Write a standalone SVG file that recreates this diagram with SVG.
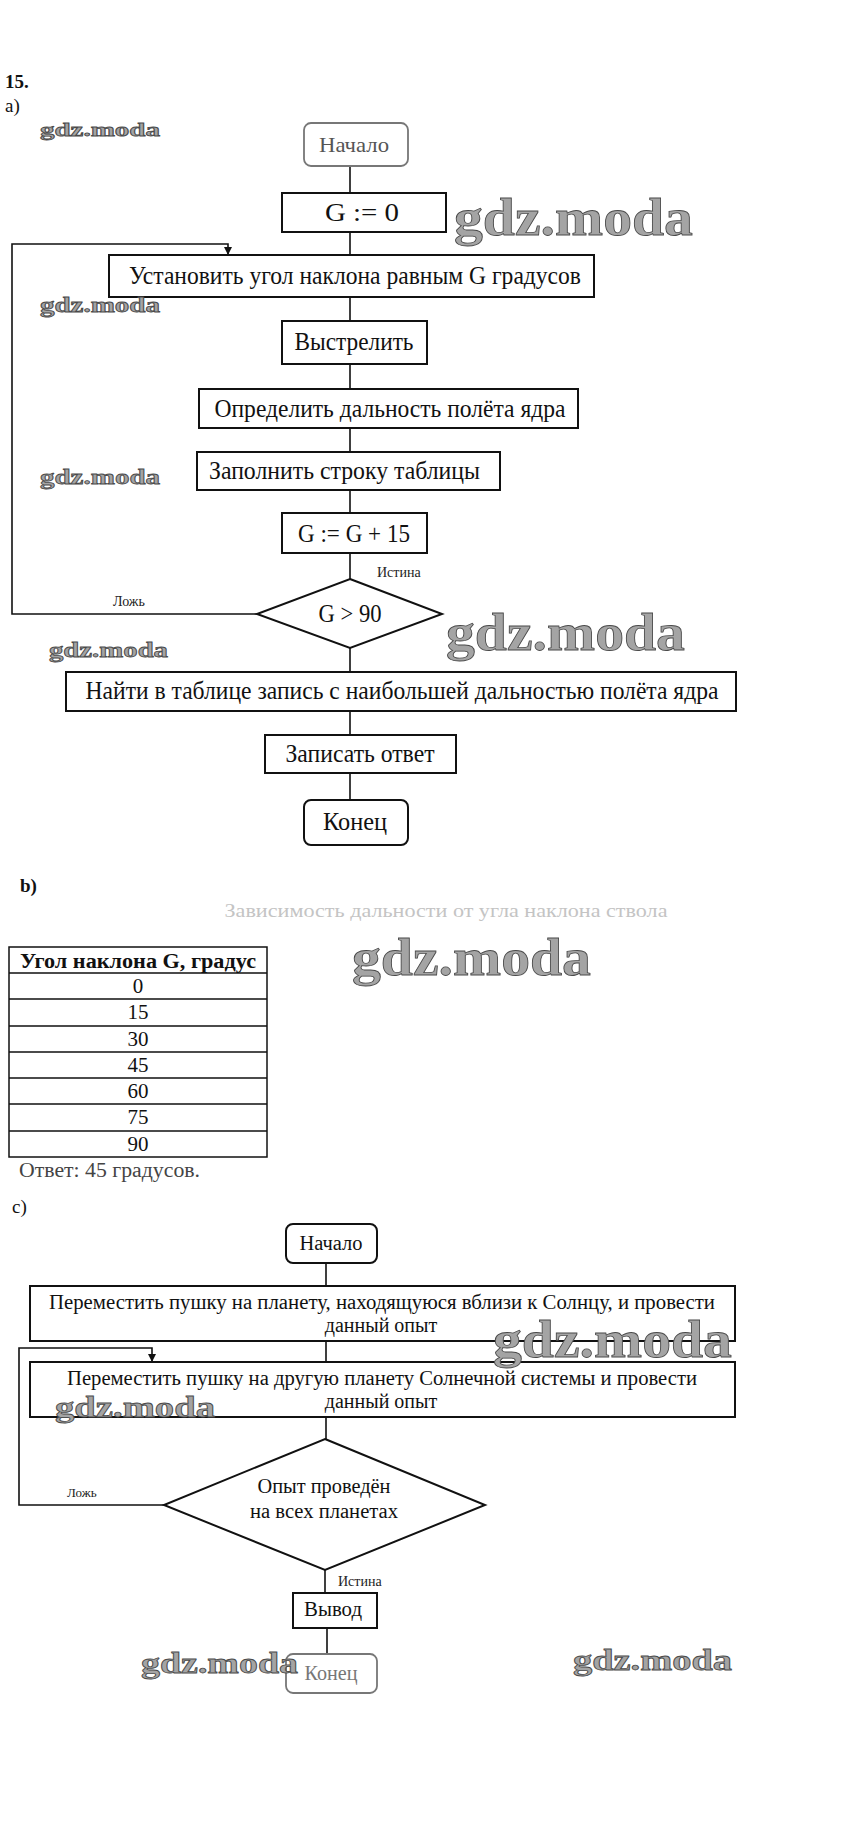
<svg xmlns="http://www.w3.org/2000/svg" width="866" height="1833" viewBox="0 0 866 1833">
<defs>
<style>
.t{font-family:"Liberation Serif","Times New Roman",serif;fill:#111;font-size:24.5px}
.c{text-anchor:middle}
.box{fill:#fff;stroke:#111;stroke-width:2}
.ln{fill:none;stroke:#111;stroke-width:1.6}
.lbl{font-family:"Liberation Serif","Times New Roman",serif;fill:#222;font-size:14px}
.wm{font-family:"Liberation Serif","Times New Roman",serif;font-weight:bold;fill:#a4a4a4;stroke:#4a4a4a;stroke-width:0.8}
.faded{fill:#fff;stroke:#777;stroke-width:1.8}
</style>
<marker id="arr" viewBox="0 0 10 10" refX="10" refY="5" markerWidth="8" markerHeight="8" markerUnits="userSpaceOnUse" orient="auto">
<path d="M0,0 L10,5 L0,10 z" fill="#111"/>
</marker>
</defs>
<rect width="866" height="1833" fill="#fff"/>

<text class="t" x="5" y="88" style="font-weight:bold;font-size:19px">15.</text>
<text class="t" x="5" y="112" style="font-size:19px">a)</text>

<!-- connectors -->
<g id="connectors">
<path class="ln" d="M350,166 V193 M350,232 V255 M350,297 V321 M350,364 V389 M350,428 V452 M350,490 V513 M350,553 V579 M350,648 V672 M350,711 V735 M350,773 V800"/>
<path class="ln" d="M257,614 H12 V244 H228 V255" marker-end="url(#arr)"/>
<path class="ln" d="M326,1263 V1286 M326,1341 V1362 M326,1417 V1439 M325,1570 V1593 M327,1628 V1654"/>
<path class="ln" d="M164,1505 H19 V1348 H152 V1362" marker-end="url(#arr)"/>
<text class="lbl" x="377" y="577">Истина</text>
<text class="lbl" x="113" y="606">Ложь</text>
<text class="lbl" x="67" y="1497" style="font-size:13px">Ложь</text>
<text class="lbl" x="338" y="1586">Истина</text>
</g>

<g id="a-start"><rect class="faded" x="304" y="123" width="104" height="43" rx="7"/><text class="t c" x="354" y="152" style="fill:#555;font-size:21px" textLength="70" lengthAdjust="spacingAndGlyphs">Начало</text></g>
<g id="a-g0"><rect class="box" x="282" y="193" width="164" height="39"/><text class="t c" x="362" y="221" style="font-size:26px" textLength="74" lengthAdjust="spacingAndGlyphs">G := 0</text></g>
<g id="a-set"><rect class="box" x="109" y="255" width="485" height="42"/><text class="t c" x="355" y="284" textLength="452" lengthAdjust="spacingAndGlyphs">Установить угол наклона равным G градусов</text></g>
<g id="a-fire"><rect class="box" x="282" y="321" width="145" height="43"/><text class="t c" x="354" y="350" textLength="119" lengthAdjust="spacingAndGlyphs">Выстрелить</text></g>
<g id="a-det"><rect class="box" x="199" y="389" width="379" height="39"/><text class="t c" x="390" y="417" textLength="351" lengthAdjust="spacingAndGlyphs">Определить дальность полёта ядра</text></g>
<g id="a-fill"><rect class="box" x="197" y="452" width="303" height="38"/><text class="t" x="209" y="479" textLength="271" lengthAdjust="spacingAndGlyphs">Заполнить строку таблицы</text></g>
<g id="a-inc"><rect class="box" x="282" y="513" width="145" height="40"/><text class="t c" x="354" y="542" textLength="112" lengthAdjust="spacingAndGlyphs">G := G + 15</text></g>
<g id="a-dec"><polygon class="box" points="350,579 442,614 350,648 257,614"/><text class="t c" x="350" y="622" textLength="63" lengthAdjust="spacingAndGlyphs">G &gt; 90</text></g>
<g id="a-find"><rect class="box" x="66" y="672" width="670" height="39"/><text class="t c" x="402" y="699" textLength="633" lengthAdjust="spacingAndGlyphs">Найти в таблице запись с наибольшей дальностью полёта ядра</text></g>
<g id="a-write"><rect class="box" x="265" y="735" width="191" height="38"/><text class="t c" x="360" y="762" textLength="149" lengthAdjust="spacingAndGlyphs">Записать ответ</text></g>
<g id="a-end"><rect class="box" x="304" y="800" width="104" height="45" rx="7"/><text class="t c" x="355" y="830" textLength="64" lengthAdjust="spacingAndGlyphs">Конец</text></g>

<!-- b -->
<text class="t" x="20" y="892" style="font-weight:bold;font-size:19px">b)</text>
<text class="t c" x="446" y="917" style="fill:#c4c4c4;font-size:19px" textLength="443" lengthAdjust="spacingAndGlyphs">Зависимость дальности от угла наклона ствола</text>
<g id="table">
<rect x="9" y="947" width="258" height="210" fill="#fff" stroke="#111" stroke-width="1.5"/>
<path class="ln" d="M9,973 H267 M9,999 H267 M9,1026 H267 M9,1052 H267 M9,1078 H267 M9,1104 H267 M9,1131 H267"/>
<text class="t c" x="138" y="968" style="font-weight:bold;font-size:20px" textLength="236" lengthAdjust="spacingAndGlyphs">Угол наклона G, градус</text>
<text class="t c" x="138" y="993" style="font-size:21px">0</text>
<text class="t c" x="138" y="1019" style="font-size:21px">15</text>
<text class="t c" x="138" y="1046" style="font-size:21px">30</text>
<text class="t c" x="138" y="1072" style="font-size:21px">45</text>
<text class="t c" x="138" y="1098" style="font-size:21px">60</text>
<text class="t c" x="138" y="1124" style="font-size:21px">75</text>
<text class="t c" x="138" y="1151" style="font-size:21px">90</text>
</g>
<text class="t" x="19" y="1177" style="fill:#444;font-size:20px" textLength="181" lengthAdjust="spacingAndGlyphs">Ответ: 45 градусов.</text>

<!-- c -->
<text class="t" x="12" y="1213" style="font-size:19px">c)</text>
<g id="c-start"><rect class="box" x="286" y="1224" width="91" height="39" rx="7"/><text class="t c" x="331" y="1250" style="font-size:20px" textLength="63" lengthAdjust="spacingAndGlyphs">Начало</text></g>
<g id="c-move1"><rect class="box" x="30" y="1286" width="705" height="55"/>
<text class="t c" x="382" y="1309" style="font-size:20px" textLength="666" lengthAdjust="spacingAndGlyphs">Переместить пушку на планету, находящуюся вблизи к Солнцу, и провести</text>
<text class="t c" x="381" y="1332" style="font-size:20px">данный опыт</text></g>
<g id="c-move2"><rect class="box" x="30" y="1362" width="705" height="55"/>
<text class="t c" x="382" y="1385" style="font-size:20px" textLength="630" lengthAdjust="spacingAndGlyphs">Переместить пушку на другую планету Солнечной системы и провести</text>
<text class="t c" x="381" y="1408" style="font-size:20px">данный опыт</text></g>
<g id="c-dec"><polygon class="box" points="325,1439 485,1505 325,1570 164,1505"/>
<text class="t c" x="324" y="1493" style="font-size:20px" textLength="133" lengthAdjust="spacingAndGlyphs">Опыт проведён</text>
<text class="t c" x="324" y="1518" style="font-size:20px" textLength="148" lengthAdjust="spacingAndGlyphs">на всех планетах</text></g>
<g id="c-out"><rect class="box" x="293" y="1593" width="84" height="35"/><text class="t c" x="333" y="1616" style="font-size:20px" textLength="58" lengthAdjust="spacingAndGlyphs">Вывод</text></g>
<g id="c-end"><rect class="faded" x="286" y="1654" width="91" height="39" rx="7"/><text class="t c" x="331" y="1680" style="font-size:20px;fill:#777" textLength="53" lengthAdjust="spacingAndGlyphs">Конец</text></g>

<!-- watermarks -->
<g id="watermarks">
<text class="wm" x="40" y="136" style="font-size:19px" textLength="120" lengthAdjust="spacingAndGlyphs">gdz.moda</text>
<text class="wm" x="454" y="235" style="font-size:52px" textLength="239" lengthAdjust="spacingAndGlyphs">gdz.moda</text>
<text class="wm" x="40" y="312" style="font-size:20px" textLength="120" lengthAdjust="spacingAndGlyphs">gdz.moda</text>
<text class="wm" x="40" y="484" style="font-size:22px" textLength="120" lengthAdjust="spacingAndGlyphs">gdz.moda</text>
<text class="wm" x="49" y="657" style="font-size:22px" textLength="119" lengthAdjust="spacingAndGlyphs">gdz.moda</text>
<text class="wm" x="446" y="650" style="font-size:52px" textLength="239" lengthAdjust="spacingAndGlyphs">gdz.moda</text>
<text class="wm" x="352" y="975" style="font-size:52px" textLength="239" lengthAdjust="spacingAndGlyphs">gdz.moda</text>
<text class="wm" x="493" y="1357" style="font-size:52px" textLength="239" lengthAdjust="spacingAndGlyphs">gdz.moda</text>
<text class="wm" x="55" y="1417" style="font-size:30px" textLength="160" lengthAdjust="spacingAndGlyphs">gdz.moda</text>
<text class="wm" x="141" y="1673" style="font-size:29px" textLength="157" lengthAdjust="spacingAndGlyphs">gdz.moda</text>
<text class="wm" x="573" y="1670" style="font-size:29px" textLength="159" lengthAdjust="spacingAndGlyphs">gdz.moda</text>
</g>
</svg>
